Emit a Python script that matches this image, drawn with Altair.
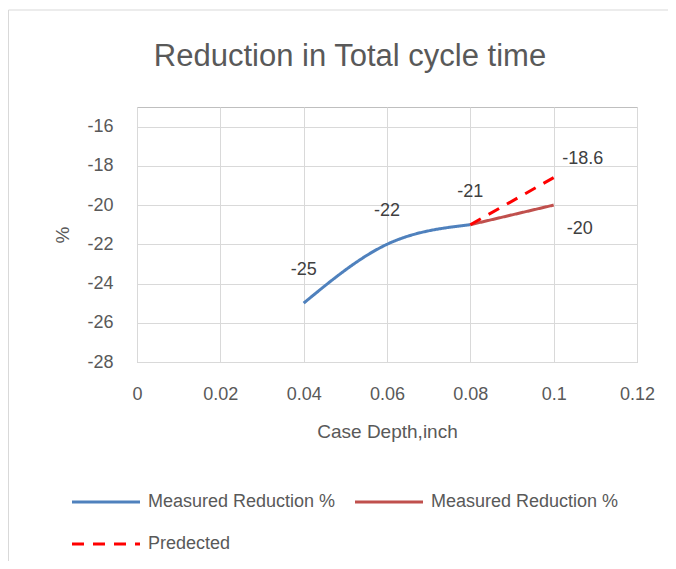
import altair as alt
import pandas as pd

# Data
measured_x = [0.04, 0.06, 0.08]
measured_y = [-25, -22, -21]
measured2_x = [0.08, 0.10]
measured2_y = [-21, -20]
pred_x = [0.08, 0.10]
pred_y = [-21, -18.6]

# legend fills column-wise: a, c in first column, b in second
series_keys = ["a", "c", "b"]
series_names = ["Measured Reduction %", "Predected", "Measured Reduction %"]
series_colors = ["#4f81bd", "#ff0000", "#c0504d"]
series_dash = [[1, 0], [12, 9], [1, 0]]

x_ticks = [0, 0.02, 0.04, 0.06, 0.08, 0.1, 0.12]
y_ticks = [-28, -26, -24, -22, -20, -18, -16]

rows = []
for i, (x, y) in enumerate(zip(measured_x, measured_y)):
    rows.append({"x": x, "y": y, "series": "a", "o": i})
for i, (x, y) in enumerate(zip(measured2_x, measured2_y)):
    rows.append({"x": x, "y": y, "series": "b", "o": i})
for i, (x, y) in enumerate(zip(pred_x, pred_y)):
    rows.append({"x": x, "y": y, "series": "c", "o": i})
df = pd.DataFrame(rows)

lab_above = pd.DataFrame({"x": measured_x, "y": measured_y})
lab_pred = pd.DataFrame({"x": [pred_x[-1]], "y": [pred_y[-1]]})
lab_meas2 = pd.DataFrame({"x": [measured2_x[-1]], "y": [measured2_y[-1]]})

FONT = "Liberation Sans"
TXT = "#595959"

label_expr = " : ".join(
    [f"datum.value == '{k}' ? '{n}'" for k, n in zip(series_keys[:-1], series_names[:-1])]
) + f" : '{series_names[-1]}'"

xscale = alt.Scale(domain=[0, 0.12], nice=False, zero=False)
yscale = alt.Scale(domain=[-28, -15], nice=False, zero=False)

lines = alt.Chart(df).mark_line(strokeWidth=3, interpolate="monotone").encode(
    x=alt.X("x:Q", scale=xscale,
            axis=alt.Axis(values=x_ticks, title="Case Depth,inch",
                          labelExpr="toString(datum.value)", labelFlush=False,
                          labelPadding=23, titlePadding=19, grid=True)),
    y=alt.Y("y:Q", scale=yscale,
            axis=alt.Axis(values=y_ticks, title="%", labelExpr="toString(datum.value)",
                          labelPadding=24, titlePadding=14, grid=True)),
    color=alt.Color("series:N", scale=alt.Scale(domain=series_keys, range=series_colors),
                    legend=alt.Legend(title=None, labelExpr=label_expr)),
    strokeDash=alt.StrokeDash("series:N", scale=alt.Scale(domain=series_keys, range=series_dash),
                              legend=alt.Legend(title=None, labelExpr=label_expr)),
    order="o:Q",
)

def label_layer(d, dx, dy):
    return alt.Chart(d).transform_calculate(t="toString(datum.y)").mark_text(
        font=FONT, fontSize=18, color="#404040", dx=dx, dy=dy,
        baseline="middle", align="center").encode(
        x=alt.X("x:Q", scale=xscale), y=alt.Y("y:Q", scale=yscale), text="t:N")

frame = alt.Chart(pd.DataFrame({"k": [0]})).mark_rect(
    filled=False, stroke="#d9d9d9", strokeWidth=1
).encode(x=alt.value(-128.5), x2=alt.value(700), y=alt.value(-97), y2=alt.value(600))

chart = alt.layer(
    frame,
    lines,
    label_layer(lab_above, 0, -33),
    label_layer(lab_pred, 29, -19),
    label_layer(lab_meas2, 26, 24),
).properties(
    width=500, height=255,
    title=alt.TitleParams("Reduction in Total cycle time", font=FONT, fontSize=31, fontWeight="normal",
                          color=TXT, anchor="middle", frame="group", dx=-37, offset=-87,
                          baseline="alphabetic"),
    autosize=alt.AutoSizeParams(type="none"),
    padding={"left": 129, "top": 99, "right": 31, "bottom": 199},
).configure_view(
    stroke="#bfbfbf", strokeWidth=1
).configure_axis(
    labelFont=FONT, labelFontSize=18, labelColor=TXT, titleFont=FONT, titleFontSize=19,
    titleFontWeight="normal", titleColor=TXT, gridColor="#d9d9d9", gridWidth=1, domain=False,
    ticks=False,
).configure_legend(
    orient="none", legendX=-41, legendY=385, columns=2, symbolType="M-4,0H4", symbolSize=289,
    symbolStrokeWidth=3, labelFont=FONT, labelFontSize=18, labelColor=TXT, labelOffset=32,
    columnPadding=13, rowPadding=23, labelLimit=400,
)

chart.save("out.html", embed_options={"renderer": "svg", "actions": False})
